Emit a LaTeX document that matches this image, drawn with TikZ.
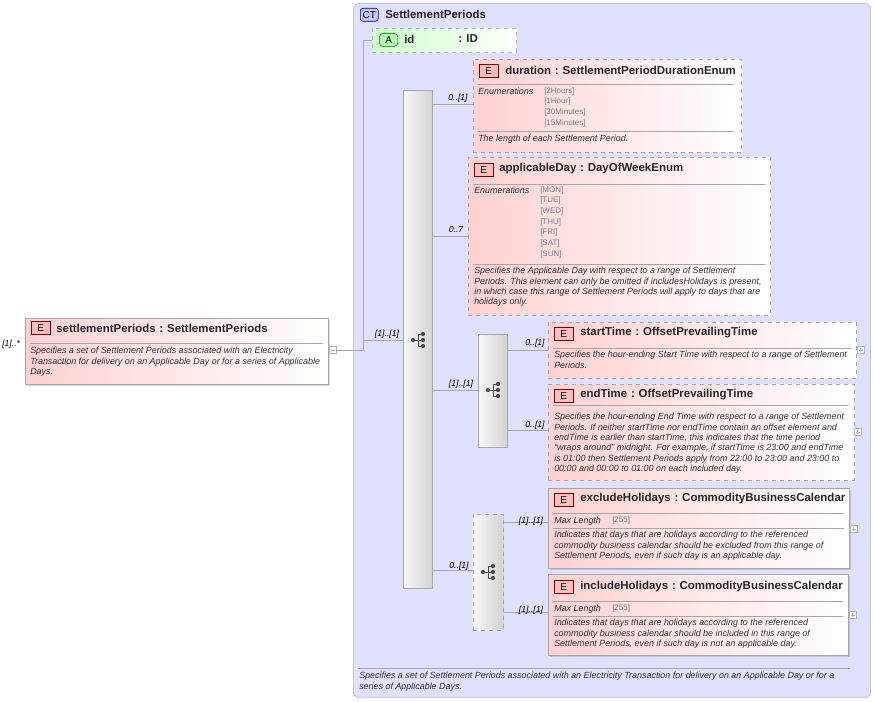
\documentclass[tikz,border=0pt]{standalone}
\usepackage{fontspec}
\setmainfont{Liberation Sans}
\usetikzlibrary{shadows}
\begin{document}
\begin{tikzpicture}[x=0.75pt,y=-0.75pt,
  el/.style={draw=gray!70,left color=red!18,right color=white,inner sep=0,anchor=north west},
  eld/.style={el,dashed},
  els/.style={el,drop shadow={shadow xshift=1.5pt,shadow yshift=-1.5pt,opacity=0.3}},
  badge/.style={draw=red!50!black,fill=red!25,minimum width=14.25pt,minimum height=9.75pt,inner sep=0,anchor=north west,font=\fontsize{7.5}{8}\selectfont},
  ttl/.style={anchor=west,inner sep=0,font=\fontsize{8.6}{9}\selectfont\bfseries,text=black!85},
  dsc/.style={anchor=north west,inner sep=0,align=left,font=\fontsize{6.7}{7.8}\selectfont\itshape,text=black!80},
  enm/.style={anchor=north west,inner sep=0,align=left,font=\fontsize{6}{8}\selectfont,text=gray},
  lbl/.style={anchor=base,inner sep=0,font=\fontsize{6.5}{7}\selectfont\itshape},
  bar/.style={draw=gray!70,left color=gray!5,right color=gray!35,inner sep=0,anchor=north west},
  sep/.style={draw=gray!70},
  pm/.style={draw=gray!60,fill=white,minimum size=5pt,inner sep=0},
  ln/.style={draw=gray!70}
]
\useasboundingbox (0,0) rectangle (875,702);
\newcommand{\plusbox}[3]{\node[pm,anchor=west] (#1) at (#2,#3) {};
 \draw[gray!60] ([xshift=-1.5pt]#1.center) -- ([xshift=1.5pt]#1.center) ([yshift=-1.5pt]#1.center) -- ([yshift=1.5pt]#1.center);}
% complex type frame
\node[draw=gray!60,rounded corners=5pt,fill=blue!12,minimum width=388pt,minimum height=521pt,inner sep=0,anchor=north west] (ct) at (353,3) {};
\node[draw=blue!50!black,fill=blue!22,rounded corners=2pt,minimum width=13.5pt,minimum height=9.75pt,inner sep=0,anchor=north west,font=\fontsize{7.5}{8}\selectfont] (ctb) at (360,8) {CT};
\node[ttl] (ctt) at (385,14) {SettlementPeriods};
\draw[sep] (358,668) -- (850,668);
\node[dsc] (ctd) at (359,672) {Specifies a set of Settlement Periods associated with an Electricity Transaction for delivery on an Applicable Day or for a\\series of Applicable Days.};

% attribute id
\node[draw=gray!60,dashed,left color=green!20,right color=white,inner sep=0,minimum width=108pt,minimum height=18pt,anchor=north west] (idb) at (372,28) {};
\node[draw=green!40!black,fill=green!30,rounded corners=3pt,minimum width=14pt,minimum height=10pt,inner sep=0,anchor=north west,font=\fontsize{7.5}{8}\selectfont] (ida) at (379,33) {A};
\node[ttl] (idt) at (404,39) {id};
\node[ttl] (idtt) at (458,39) {: ID};

% settlementPeriods element
\node[els,minimum width=227pt,minimum height=49.5pt] (sp) at (25,318) {};
\node[badge] (spE) at (31,321) {E};
\node[ttl] (spt) at (56,328) {settlementPeriods\,\,:\,\,SettlementPeriods};
\draw[sep] (30,343) -- (323,343);
\node[dsc] (spd) at (30,347) {Specifies a set of Settlement Periods associated with an Electricity\\Transaction for delivery on an Applicable Day or for a series of Applicable\\Days.};
\node[lbl,anchor=base west] (spl) at (2,347) {[1]..*};
\node[pm,anchor=west] (spm) at (329,350) {};
\draw[gray!60] ([xshift=-1.5pt]spm.center) -- ([xshift=1.5pt]spm.center);

% main sequence bar
\node[bar,minimum width=22pt,minimum height=373.5pt] (seq) at (403,90) {};
\coordinate (j) at (363,350);
\draw[ln] (spm.east) -- (j) -- (363,340) -- (seq.west |- 0,340);
\draw[ln] (363,340) -- (363,40) -- (idb.west |- 0,40);
\node[lbl] (l0) at (387,337) {[1]..[1]};

\newcommand{\seqicon}[2]{%
 \fill[black!70] (#1-6,#2) circle (1.6pt);
 \draw[black!70] (#1-6,#2) -- (#1-1,#2) (#1-1,#2-6) -- (#1-1,#2+6) (#1-1,#2-6) -- (#1+4,#2-6) (#1-1,#2) -- (#1+4,#2) (#1-1,#2+6) -- (#1+4,#2+6);
 \fill[black!70] (#1+4,#2-6) circle (1.6pt) (#1+4,#2) circle (1.6pt) (#1+4,#2+6) circle (1.6pt);}
\seqicon{419}{340}

% duration
\node[eld,minimum width=201pt,minimum height=70pt] (dur) at (473,59) {};
\node[badge] (durE) at (479,64) {E};
\node[ttl] at (505,70) {duration\,\,:\,\,SettlementPeriodDurationEnum};
\draw[sep] (478,84) -- (734,84);
\node[dsc] at (478,88) {Enumerations};
\node[enm] at (544,87) {{[2Hours]}\\{[1Hour]}\\{[30Minutes]}\\{[15Minutes]}};
\draw[sep] (478,131) -- (734,131);
\node[dsc] at (478,135) {The length of each Settlement Period.};
\draw[ln] (seq.east |- 0,104) -- (dur.west |- 0,104);
\node[lbl] at (458,101) {0..[1]};

% applicableDay
\node[eld,minimum width=226.5pt,minimum height=118.5pt] (ad) at (468,157) {};
\node[badge] at (474,163) {E};
\node[ttl] at (499,169) {applicableDay\,\,:\,\,DayOfWeekEnum};
\draw[sep] (473,184) -- (765,184);
\node[dsc] at (474,187) {Enumerations};
\node[enm] at (540,186) {{[MON]}\\{[TUE]}\\{[WED]}\\{[THU]}\\{[FRI]}\\{[SAT]}\\{[SUN]}};
\draw[sep] (473,264) -- (765,264);
\node[dsc] at (474,267) {Specifies the Applicable Day with respect to a range of Settlement\\Periods. This element can only be omitted if includesHolidays is present,\\in which case this range of Settlement Periods will apply to days that are\\holidays only.};
\draw[ln] (seq.east |- 0,236) -- (ad.west |- 0,236);
\node[lbl] at (456,233) {0..7};

% inner sequence
\node[bar,minimum width=22pt,minimum height=84.75pt] (seq2) at (478,334) {};
\seqicon{494}{390}
\draw[ln] (seq.east |- 0,390) -- (seq2.west |- 0,390);
\node[lbl] at (461,387) {[1]..[1]};

% startTime
\node[eld,minimum width=231pt,minimum height=42pt] (st) at (548,322) {};
\node[badge] at (554,327) {E};
\node[ttl] at (580,333) {startTime\,\,:\,\,OffsetPrevailingTime};
\draw[sep] (553,348) -- (851,348);
\node[dsc] at (554,351) {Specifies the hour-ending Start Time with respect to a range of Settlement\\Periods.};
\plusbox{p1}{857}{350}
\draw[ln] (seq2.east |- 0,350) -- (st.west |- 0,350);
\node[lbl] at (535,346) {0..[1]};

% endTime
\node[eld,minimum width=229.5pt,minimum height=72pt] (et) at (548,384) {};
\node[badge] at (554,389) {E};
\node[ttl] at (580,395) {endTime\,\,:\,\,OffsetPrevailingTime};
\draw[sep] (553,405) -- (849,405);
\node[dsc] at (554,413) {Specifies the hour-ending End Time with respect to a range of Settlement\\Periods. If neither startTime nor endTime contain an offset element and\\endTime is earlier than startTime, this indicates that the time period\\``wraps around'' midnight. For example, if startTime is 23:00 and endTime\\is 01:00 then Settlement Periods apply from 22:00 to 23:00 and 23:00 to\\00:00 and 00:00 to 01:00 on each included day.};
\plusbox{p2}{854}{432}
\draw[ln] (seq2.east |- 0,430) -- (et.west |- 0,430);
\node[lbl] at (535,427) {0..[1]};

% optional sequence
\node[bar,dashed,minimum width=22.5pt,minimum height=87pt] (seq3) at (473,514) {};
\seqicon{489}{572}
\draw[ln] (seq.east |- 0,570) -- (seq3.west |- 0,570);
\node[lbl] at (459,568) {0..[1]};

% excludeHolidays
\node[els,minimum width=225.75pt,minimum height=60pt] (ex) at (548,488) {};
\node[badge] at (554,493) {E};
\node[ttl] at (580,499) {excludeHolidays\,\,:\,\,CommodityBusinessCalendar};
\draw[sep] (553,513) -- (844,513);
\node[dsc] at (554,517) {Max Length};
\node[enm] at (612,516) {[255]};
\draw[sep] (553,528) -- (844,528);
\node[dsc] at (554,531) {Indicates that days that are holidays according to the referenced\\commodity business calendar should be excluded from this range of\\Settlement Periods, even if such day is an applicable day.};
\plusbox{p3}{850}{529}
\draw[ln] (seq3.east |- 0,522) -- (ex.west |- 0,522);
\node[lbl] at (531,523) {[1]..[1]};

% includeHolidays
\node[els,minimum width=225pt,minimum height=60.75pt] (in) at (548,574) {};
\node[badge] at (554,580) {E};
\node[ttl] at (580,587) {includeHolidays\,\,:\,\,CommodityBusinessCalendar};
\draw[sep] (553,601) -- (843,601);
\node[dsc] at (554,605) {Max Length};
\node[enm] at (612,604) {[255]};
\draw[sep] (553,616) -- (843,616);
\node[dsc] at (554,619) {Indicates that days that are holidays according to the referenced\\commodity business calendar should be included in this range of\\Settlement Periods, even if such day is not an applicable day.};
\plusbox{p4}{849}{615}
\draw[ln] (seq3.east |- 0,612) -- (in.west |- 0,612);
\node[lbl] at (531,612) {[1]..[1]};
\end{tikzpicture}
\end{document}
